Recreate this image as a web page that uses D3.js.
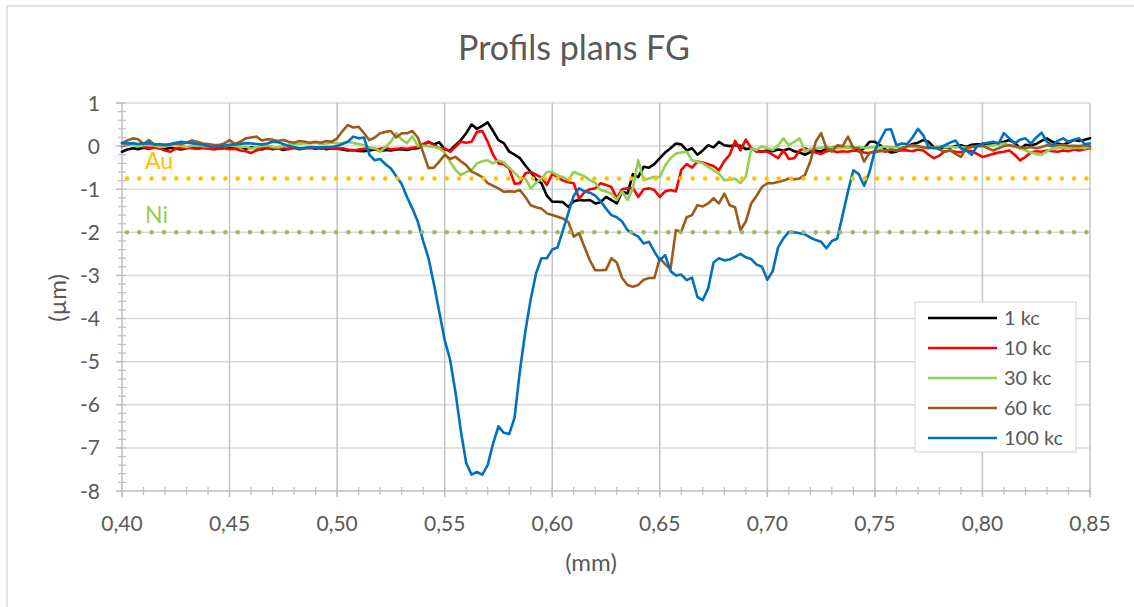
<!DOCTYPE html>
<html>
<head>
<meta charset="utf-8">
<script src="https://cdn.jsdelivr.net/npm/d3@7"></script>
<style>
  html, body { margin: 0; padding: 0; background: #fff; }
  svg { display: block; font-family: Lato, "Open Sans", sans-serif; }
</style>
</head>
<body>
<svg id="chart" width="1134" height="607"></svg>
<script>
// ---- DATA ----
const xPositions = [
 0.4000,0.4025,0.4050,0.4075,0.4100,0.4125,0.4150,0.4175,0.4200,0.4225,
 0.4250,0.4275,0.4300,0.4325,0.4350,0.4375,0.4400,0.4425,0.4450,0.4475,
 0.4500,0.4525,0.4550,0.4575,0.4600,0.4625,0.4650,0.4675,0.4700,0.4725,
 0.4750,0.4775,0.4800,0.4825,0.4850,0.4875,0.4900,0.4925,0.4950,0.4975,
 0.5000,0.5025,0.5050,0.5075,0.5100,0.5125,0.5150,0.5175,0.5200,0.5225,
 0.5250,0.5275,0.5300,0.5325,0.5350,0.5375,0.5400,0.5425,0.5450,0.5475,
 0.5500,0.5525,0.5550,0.5575,0.5600,0.5625,0.5650,0.5675,0.5700,0.5725,
 0.5750,0.5775,0.5800,0.5825,0.5850,0.5875,0.5900,0.5925,0.5950,0.5975,
 0.6000,0.6025,0.6050,0.6075,0.6100,0.6125,0.6150,0.6175,0.6200,0.6225,
 0.6250,0.6275,0.6300,0.6325,0.6350,0.6375,0.6400,0.6425,0.6450,0.6475,
 0.6500,0.6525,0.6550,0.6575,0.6600,0.6625,0.6650,0.6675,0.6700,0.6725,
 0.6750,0.6775,0.6800,0.6825,0.6850,0.6875,0.6900,0.6925,0.6950,0.6975,
 0.7000,0.7025,0.7050,0.7075,0.7100,0.7125,0.7150,0.7175,0.7200,0.7225,
 0.7250,0.7275,0.7300,0.7325,0.7350,0.7375,0.7400,0.7425,0.7450,0.7475,
 0.7500,0.7525,0.7550,0.7575,0.7600,0.7625,0.7650,0.7675,0.7700,0.7725,
 0.7750,0.7775,0.7800,0.7825,0.7850,0.7875,0.7900,0.7925,0.7950,0.7975,
 0.8000,0.8025,0.8050,0.8075,0.8100,0.8125,0.8150,0.8175,0.8200,0.8225,
 0.8250,0.8275,0.8300,0.8325,0.8350,0.8375,0.8400,0.8425,0.8450,0.8475,
 0.8500
];

const kc1 = [
 -0.13,-0.08,-0.05,-0.07,-0.04,-0.06,-0.03,-0.05,-0.07,-0.04,
 -0.06,-0.08,-0.05,-0.03,-0.06,-0.04,-0.05,-0.02,-0.06,-0.04,
 -0.03,-0.05,-0.02,-0.06,-0.03,-0.05,-0.08,-0.04,-0.07,-0.05,
 -0.09,-0.06,-0.04,-0.07,-0.05,-0.03,-0.06,-0.04,-0.07,-0.05,
 -0.06,-0.08,-0.10,-0.09,-0.11,-0.12,-0.10,-0.08,-0.11,-0.09,
 -0.10,-0.08,-0.07,-0.09,-0.06,-0.05,0.02,0.10,0.04,0.09,
 -0.08,-0.10,0.02,0.14,0.30,0.50,0.40,0.47,0.55,0.35,
 0.14,0.07,-0.13,-0.20,-0.28,-0.45,-0.60,-0.78,-0.86,-1.15,
 -1.29,-1.29,-1.30,-1.41,-1.28,-1.25,-1.26,-1.25,-1.33,-1.30,
 -1.18,-1.25,-1.33,-1.06,-1.10,-0.65,-0.72,-0.48,-0.50,-0.42,
 -0.28,-0.15,-0.05,0.06,0.04,-0.10,-0.05,-0.20,-0.10,0.02,
 -0.03,0.10,0.02,0.00,0.02,0.01,-0.07,-0.05,-0.10,-0.13,
 -0.10,-0.12,-0.08,-0.10,-0.06,-0.12,-0.15,-0.20,-0.14,-0.10,
 -0.13,-0.05,-0.03,-0.02,-0.03,-0.02,-0.03,-0.12,-0.05,0.10,
 0.10,0.02,-0.08,-0.15,-0.13,-0.05,-0.02,0.05,0.08,0.14,
 0.10,-0.03,-0.05,-0.02,-0.03,0.00,0.02,-0.02,0.03,0.04,
 0.04,0.06,0.05,0.08,0.10,0.14,0.08,-0.05,0.03,0.02,
 0.05,0.12,0.18,0.10,0.06,0.03,0.08,0.14,0.12,0.15,
 0.18
];

const kc10 = [
 0.00,0.03,0.05,0.00,-0.02,-0.04,-0.03,-0.05,-0.10,-0.13,
 -0.06,-0.04,-0.03,-0.05,-0.06,-0.04,-0.05,-0.08,-0.06,-0.05,
 -0.07,-0.06,-0.10,-0.12,-0.16,-0.10,-0.05,-0.04,-0.05,-0.06,
 -0.05,-0.07,-0.04,-0.06,-0.05,-0.05,-0.04,-0.06,-0.05,-0.05,
 -0.06,-0.05,-0.08,-0.10,-0.08,-0.06,-0.05,-0.07,-0.06,-0.04,
 -0.08,-0.06,-0.05,-0.06,-0.04,-0.02,0.05,0.10,0.02,-0.05,
 -0.05,-0.13,-0.02,0.10,0.08,0.10,0.33,0.35,0.10,-0.20,
 -0.40,-0.42,-0.52,-0.87,-0.86,-0.63,-0.60,-0.66,-0.73,-0.90,
 -0.65,-0.72,-0.80,-0.84,-0.86,-1.22,-1.07,-1.00,-0.98,-0.86,
 -0.90,-0.95,-1.20,-1.00,-0.98,-0.97,-1.18,-1.00,-0.98,-1.02,
 -1.18,-1.05,-1.02,-1.05,-0.55,-0.42,-0.50,-0.36,-0.38,-0.42,
 -0.46,-0.56,-0.35,-0.20,0.12,-0.10,0.15,-0.05,-0.13,-0.12,
 -0.13,-0.20,-0.28,-0.10,-0.30,-0.28,-0.10,-0.05,-0.10,-0.15,
 -0.18,-0.12,-0.10,-0.14,-0.12,-0.13,-0.10,-0.12,-0.15,-0.16,
 -0.12,-0.10,-0.13,-0.08,-0.11,-0.10,-0.10,-0.12,-0.08,-0.10,
 -0.20,-0.28,-0.22,-0.12,-0.10,-0.13,-0.14,-0.10,-0.12,-0.18,
 -0.25,-0.22,-0.18,-0.15,-0.13,-0.10,-0.20,-0.33,-0.25,-0.15,
 -0.12,-0.13,-0.10,-0.12,-0.13,-0.10,-0.12,-0.08,-0.10,-0.07,
 -0.05
];

const kc30 = [
 0.02,0.05,0.03,0.00,0.02,0.04,0.01,-0.02,0.00,0.02,
 0.03,0.00,-0.02,0.01,0.02,0.00,-0.01,0.01,0.03,0.00,
 0.02,0.00,-0.03,-0.01,-0.06,-0.03,0.00,0.02,-0.02,-0.03,
 0.00,0.04,0.06,0.05,0.07,0.06,0.08,0.05,0.06,0.08,
 0.06,0.07,0.10,0.07,0.05,0.02,-0.03,-0.05,-0.13,-0.02,
 0.10,0.30,0.15,0.07,0.23,0.00,0.01,0.00,-0.02,-0.05,
 -0.15,-0.36,-0.55,-0.67,-0.60,-0.56,-0.40,-0.35,-0.33,-0.40,
 -0.33,-0.38,-0.50,-0.62,-0.75,-0.75,-0.98,-0.85,-0.75,-0.60,
 -0.60,-0.68,-0.72,-0.79,-0.60,-0.65,-0.70,-0.79,-0.85,-1.02,
 -1.05,-1.10,-1.25,-1.05,-1.25,-0.98,-0.33,-0.79,-0.75,-0.71,
 -0.72,-0.45,-0.28,-0.17,-0.15,-0.13,-0.33,-0.36,-0.40,-0.48,
 -0.56,-0.64,-0.79,-0.78,-0.75,-0.86,-0.71,-0.06,-0.09,0.00,
 -0.05,-0.09,0.02,0.18,0.02,0.10,0.18,-0.13,-0.06,-0.05,
 -0.04,-0.02,-0.03,-0.05,-0.04,-0.03,-0.05,-0.02,-0.04,-0.03,
 -0.02,-0.03,-0.01,-0.03,-0.02,-0.04,-0.02,-0.01,-0.03,-0.02,
 -0.03,-0.02,0.00,-0.02,-0.01,-0.03,-0.02,-0.04,-0.02,-0.01,
 -0.02,0.00,0.02,0.04,0.06,0.02,-0.02,-0.04,-0.10,-0.15,
 -0.18,-0.20,-0.12,-0.06,-0.05,-0.03,-0.06,-0.04,-0.03,-0.05,
 -0.02
];

const kc60 = [
 0.07,0.13,0.18,0.16,0.05,0.14,0.03,0.05,0.02,0.04,
 0.06,0.05,0.08,0.13,0.10,0.06,0.05,0.03,0.02,0.06,
 0.14,0.05,0.10,0.18,0.20,0.22,0.13,0.16,0.15,0.12,
 0.14,0.10,0.08,0.12,0.10,0.08,0.10,0.08,0.12,0.10,
 0.18,0.35,0.49,0.43,0.45,0.30,0.14,0.20,0.30,0.33,
 0.35,0.20,0.30,0.30,0.35,0.20,-0.15,-0.51,-0.50,-0.36,
 -0.20,-0.30,-0.25,-0.35,-0.44,-0.59,-0.65,-0.72,-0.86,-0.92,
 -0.98,-1.06,-1.05,-1.06,-1.02,-1.18,-1.37,-1.42,-1.45,-1.56,
 -1.60,-1.64,-1.68,-1.76,-2.10,-2.02,-2.34,-2.65,-2.88,-2.88,
 -2.87,-2.60,-2.70,-3.06,-3.22,-3.26,-3.22,-3.10,-3.06,-3.06,
 -2.60,-2.74,-2.85,-1.95,-1.98,-1.65,-1.60,-1.37,-1.40,-1.33,
 -1.21,-1.33,-1.10,-1.37,-1.42,-1.95,-1.75,-1.33,-1.15,-0.95,
 -0.86,-0.86,-0.83,-0.80,-0.75,-0.77,-0.75,-0.67,-0.35,0.10,
 0.30,-0.05,-0.13,0.02,0.00,0.22,-0.05,-0.05,-0.36,-0.16,
 -0.14,-0.12,-0.10,-0.08,-0.10,-0.05,0.00,0.02,0.00,-0.03,
 -0.05,-0.03,-0.08,-0.13,-0.10,-0.18,-0.25,-0.05,-0.02,0.00,
 0.02,-0.05,-0.10,-0.05,0.00,0.02,0.00,-0.03,-0.05,-0.02,
 -0.05,-0.02,0.02,0.00,0.02,0.03,0.00,0.01,0.00,0.02,
 0.00
];

const kc100 = [
 0.07,0.06,0.07,0.05,0.06,0.07,0.05,0.04,0.03,0.05,
 0.08,0.10,0.08,0.07,0.05,0.03,0.00,-0.02,-0.01,0.01,
 0.03,0.04,0.05,0.07,0.06,0.05,0.04,0.06,0.10,0.09,
 0.05,0.00,-0.02,-0.05,-0.04,-0.02,-0.03,-0.03,-0.02,-0.02,
 0.00,0.05,0.10,0.22,0.18,0.20,-0.20,-0.33,-0.30,-0.42,
 -0.52,-0.70,-0.88,-1.18,-1.45,-1.75,-2.20,-2.60,-3.20,-3.85,
 -4.50,-4.95,-5.70,-6.60,-7.35,-7.62,-7.56,-7.62,-7.40,-6.90,
 -6.50,-6.65,-6.68,-6.30,-5.20,-4.30,-3.55,-2.95,-2.60,-2.60,
 -2.40,-2.35,-1.95,-1.55,-1.15,-0.98,-1.05,-1.08,-1.15,-1.28,
 -1.45,-1.60,-1.65,-1.75,-1.95,-2.03,-2.10,-2.26,-2.22,-2.45,
 -2.65,-2.53,-2.90,-3.00,-2.98,-3.11,-3.05,-3.50,-3.57,-3.30,
 -2.70,-2.60,-2.65,-2.63,-2.57,-2.50,-2.58,-2.62,-2.75,-2.80,
 -3.10,-2.90,-2.35,-2.14,-1.99,-2.00,-2.02,-2.05,-2.12,-2.18,
 -2.22,-2.37,-2.20,-2.15,-1.60,-1.05,-0.56,-0.65,-0.92,-0.60,
 -0.10,0.14,0.38,0.39,0.02,0.06,0.05,0.20,0.40,0.25,
 -0.03,-0.05,-0.04,0.02,0.08,0.13,-0.05,-0.10,-0.20,0.00,
 0.06,0.08,0.10,0.06,0.30,0.18,0.06,0.15,0.18,0.06,
 0.20,0.31,0.10,0.02,0.12,0.18,0.10,0.15,0.18,0.05,
 0.06
];

const seriesNames = ["1 kc", "10 kc", "30 kc", "60 kc", "100 kc"];
const seriesValues = [kc1, kc10, kc30, kc60, kc100];
const seriesColors = ["#000000", "#ff0000", "#92d050", "#9c5b1a", "#0070c0"];

const refLabels = ["Au", "Ni"];
const refLevels = [-0.75, -2.0];
const refColors = ["#ffc000", "#9bbb59"];
const refLabelColors = ["#ffc000", "#92d050"];

const xTicks = [0.40, 0.45, 0.50, 0.55, 0.60, 0.65, 0.70, 0.75, 0.80, 0.85];
const yTicks = [1, 0, -1, -2, -3, -4, -5, -6, -7, -8];

const titleText = "Profils plans FG";
const xTitle = "(mm)";
const yTitle = "(µm)";

// ---- LAYOUT ----
const W = 1134, H = 607;
const plot = { left: 122, right: 1090, top: 103, bottom: 491 };
const textColor = "#595959";

const svg = d3.select("#chart");

// chart border
svg.append("rect")
  .attr("x", 7).attr("y", 6).attr("width", W + 20).attr("height", H + 20)
  .attr("fill", "#fff").attr("stroke", "#d9d9d9").attr("stroke-width", 1.5);

const x = d3.scaleLinear().domain([0.40, 0.85]).range([plot.left, plot.right]);
const y = d3.scaleLinear().domain([-8, 1]).range([plot.bottom, plot.top]);

const fmtX = v => d3.format(".2f")(v).replace(".", ",");

// gridlines
const grid = svg.append("g");
grid.selectAll("line.h").data(yTicks.filter(t => t !== -8)).enter().append("line")
  .attr("x1", plot.left).attr("x2", plot.right)
  .attr("y1", d => y(d)).attr("y2", d => y(d))
  .attr("stroke", "#d9d9d9").attr("stroke-width", 1.5);
grid.selectAll("line.v").data(xTicks.filter(t => t !== 0.40)).enter().append("line")
  .attr("y1", plot.top).attr("y2", plot.bottom)
  .attr("x1", d => x(d)).attr("x2", d => x(d))
  .attr("stroke", "#c4c4c4").attr("stroke-width", 1.5);

// axes
const axisColor = "#bfbfbf";
const yAx = svg.append("g");
yAx.append("line").attr("x1", plot.left).attr("x2", plot.left)
  .attr("y1", plot.top).attr("y2", plot.bottom)
  .attr("stroke", axisColor).attr("stroke-width", 1.5);
const yMinor = d3.range(-8, 1.0001, 0.2);
yAx.selectAll("line.minor").data(yMinor).enter().append("line")
  .attr("x1", plot.left - 4).attr("x2", plot.left + 4)
  .attr("y1", d => y(d)).attr("y2", d => y(d))
  .attr("stroke", axisColor).attr("stroke-width", 1.2);
yAx.selectAll("line.major").data(yTicks).enter().append("line")
  .attr("x1", plot.left - 6).attr("x2", plot.left)
  .attr("y1", d => y(d)).attr("y2", d => y(d))
  .attr("stroke", axisColor).attr("stroke-width", 1.5);
yAx.selectAll("text").data(yTicks).enter().append("text")
  .attr("x", 100).attr("y", d => y(d)).attr("dy", "0.36em")
  .attr("text-anchor", "end").attr("fill", textColor)
  .style("font-size", "21px").text(d => d);

const xAx = svg.append("g");
xAx.append("line").attr("x1", plot.left).attr("x2", plot.right)
  .attr("y1", plot.bottom).attr("y2", plot.bottom)
  .attr("stroke", axisColor).attr("stroke-width", 1.5);
const xMinor = d3.range(0.40, 0.8501, 0.01);
xAx.selectAll("line.minor").data(xMinor).enter().append("line")
  .attr("x1", d => x(d)).attr("x2", d => x(d))
  .attr("y1", plot.bottom - 4).attr("y2", plot.bottom + 4)
  .attr("stroke", axisColor).attr("stroke-width", 1.2);
xAx.selectAll("line.major").data(xTicks).enter().append("line")
  .attr("x1", d => x(d)).attr("x2", d => x(d))
  .attr("y1", plot.bottom).attr("y2", plot.bottom + 6)
  .attr("stroke", axisColor).attr("stroke-width", 1.5);
xAx.selectAll("text").data(xTicks).enter().append("text")
  .attr("x", d => x(d)).attr("y", 531)
  .attr("text-anchor", "middle").attr("fill", textColor)
  .style("font-size", "21px").text(d => fmtX(d));

// axis titles
svg.append("text").attr("x", 591).attr("y", 571).attr("text-anchor", "middle")
  .attr("fill", textColor).style("font-size", "24px").text(xTitle);
svg.append("text").attr("transform", "translate(66,298) rotate(-90)")
  .attr("text-anchor", "middle").attr("fill", textColor)
  .style("font-size", "24px").text(yTitle);

// title
svg.append("text").attr("x", 574).attr("y", 60).attr("text-anchor", "middle")
  .attr("fill", textColor).style("font-size", "34px").text(titleText);

// series
const line = d3.line().x((d, i) => x(xPositions[i])).y(d => y(d));
const seriesG = svg.append("g");
seriesValues.forEach((vals, k) => {
  seriesG.append("path").datum(vals)
    .attr("d", line)
    .attr("fill", "none")
    .attr("stroke", seriesColors[k])
    .attr("stroke-width", 2.6)
    .attr("stroke-linejoin", "round")
    .attr("stroke-linecap", "round");
});

// reference dotted lines
refLevels.forEach((lv, k) => {
  svg.append("line")
    .attr("x1", x(0.40) + 5).attr("x2", x(0.85))
    .attr("y1", y(lv)).attr("y2", y(lv))
    .attr("stroke", refColors[k]).attr("stroke-width", 4.5)
    .attr("stroke-linecap", "round")
    .attr("stroke-dasharray", "0 12.3");
  svg.append("text")
    .attr("x", 145).attr("y", y(lv) - 9)
    .attr("fill", refLabelColors[k]).style("font-size", "23px")
    .text(refLabels[k]);
});

// legend
const lg = svg.append("g");
lg.append("rect").attr("x", 915).attr("y", 302).attr("width", 161).attr("height", 150)
  .attr("fill", "#fff").attr("stroke", "#d9d9d9").attr("stroke-width", 1.2);
seriesNames.forEach((name, k) => {
  const yy = 318 + k * 30;
  lg.append("line").attr("x1", 928).attr("x2", 997).attr("y1", yy).attr("y2", yy)
    .attr("stroke", seriesColors[k]).attr("stroke-width", 2.6);
  lg.append("text").attr("x", 1004).attr("y", yy).attr("dy", "0.36em")
    .attr("fill", textColor).style("font-size", "20px").text(name);
});
</script>
</body>
</html>
